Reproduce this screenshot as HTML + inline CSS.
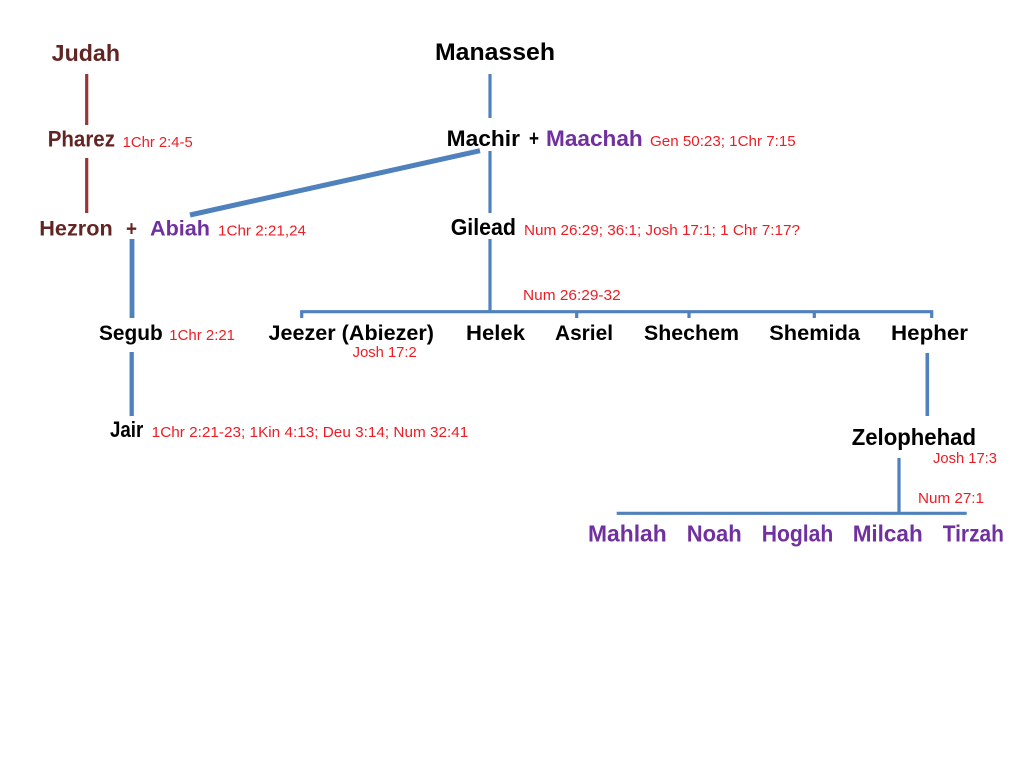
<!DOCTYPE html>
<html>
<head>
<meta charset="utf-8">
<style>
html,body{margin:0;padding:0;background:#fff;}
svg{display:block;}
.n{font-family:"Liberation Sans",sans-serif;font-weight:bold;}
.r{font-family:"Liberation Sans",sans-serif;fill:#ee1c24;font-size:14.5px;}
.b{fill:#632523;}
.k{fill:#000;}
.p{fill:#7030a0;}
</style>
</head>
<body>
<svg width="1024" height="768" viewBox="0 0 1024 768" xmlns="http://www.w3.org/2000/svg">
<!-- Judah lines -->
<g stroke="#953735" stroke-width="3.2" fill="none">
<line x1="86.7" y1="74" x2="86.7" y2="125"/>
<line x1="86.7" y1="158" x2="86.7" y2="213"/>
</g>
<!-- blue lines -->
<g stroke="#4f81bd" fill="none" stroke-linecap="butt">
<line x1="490" y1="74" x2="490" y2="118" stroke-width="3.2"/>
<line x1="490" y1="151" x2="490" y2="213" stroke-width="3.2"/>
<line x1="490" y1="239" x2="490" y2="313" stroke-width="3.2"/>
<line x1="190" y1="215" x2="480" y2="150.7" stroke-width="5"/>
<line x1="132" y1="239" x2="132" y2="318" stroke-width="4.8"/>
<line x1="131.7" y1="352" x2="131.7" y2="416" stroke-width="4.3"/>
<polyline points="301.7,318 301.7,311.7 931.7,311.7 931.7,318" stroke-width="3.2"/>
<line x1="576.7" y1="311.7" x2="576.7" y2="318" stroke-width="3.2"/>
<line x1="689" y1="311.7" x2="689" y2="318" stroke-width="3.2"/>
<line x1="814.3" y1="311.7" x2="814.3" y2="318" stroke-width="3.2"/>
<line x1="927.3" y1="353" x2="927.3" y2="416" stroke-width="3.6"/>
<line x1="899" y1="458" x2="899" y2="513" stroke-width="3.2"/>
<line x1="616.7" y1="513.3" x2="966.7" y2="513.3" stroke-width="3.2"/>
</g>

<!-- Judah side -->
<text class="n b" x="51.7" y="61" font-size="23" textLength="68.3" lengthAdjust="spacingAndGlyphs">Judah</text>
<text class="n b" x="47.7" y="146.7" font-size="22" textLength="67.3" lengthAdjust="spacingAndGlyphs">Pharez</text>
<text class="r" x="122.7" y="147" textLength="70" lengthAdjust="spacingAndGlyphs">1Chr 2:4-5</text>
<text class="n b" x="39.3" y="235.3" font-size="21.5" textLength="73.4" lengthAdjust="spacingAndGlyphs">Hezron</text>
<text class="n b" x="126" y="235.3" font-size="21.5" textLength="11" lengthAdjust="spacingAndGlyphs">+</text>
<text class="n p" x="150" y="235.3" font-size="21.5" textLength="60" lengthAdjust="spacingAndGlyphs">Abiah</text>
<text class="r" x="218" y="235.3" textLength="88" lengthAdjust="spacingAndGlyphs">1Chr 2:21,24</text>

<!-- Manasseh -->
<text class="n k" x="435" y="60" font-size="24" textLength="120" lengthAdjust="spacingAndGlyphs">Manasseh</text>
<text class="n k" x="446.7" y="146" font-size="22.5" textLength="73.3" lengthAdjust="spacingAndGlyphs">Machir</text>
<text class="n k" x="529" y="146" font-size="22.5" textLength="10" lengthAdjust="spacingAndGlyphs">+</text>
<text class="n p" x="546" y="146" font-size="22.5" textLength="96.7" lengthAdjust="spacingAndGlyphs">Maachah</text>
<text class="r" x="650" y="146" textLength="145.7" lengthAdjust="spacingAndGlyphs">Gen 50:23; 1Chr 7:15</text>
<text class="n k" x="450.7" y="235" font-size="23" textLength="65.3" lengthAdjust="spacingAndGlyphs">Gilead</text>
<text class="r" x="524" y="235" textLength="276" lengthAdjust="spacingAndGlyphs">Num 26:29; 36:1; Josh 17:1; 1 Chr 7:17?</text>

<text class="r" x="523" y="300" textLength="97.7" lengthAdjust="spacingAndGlyphs">Num 26:29-32</text>

<!-- sons row -->
<text class="n k" x="99" y="340" font-size="21.5" textLength="63.7" lengthAdjust="spacingAndGlyphs">Segub</text>
<text class="r" x="169.3" y="340" textLength="65.7" lengthAdjust="spacingAndGlyphs">1Chr 2:21</text>
<text class="n k" x="268.5" y="340" font-size="21.5" textLength="165.5" lengthAdjust="spacingAndGlyphs">Jeezer (Abiezer)</text>
<text class="r" x="352.7" y="357" textLength="64" lengthAdjust="spacingAndGlyphs">Josh 17:2</text>
<text class="n k" x="466" y="340" font-size="21.5" textLength="59" lengthAdjust="spacingAndGlyphs">Helek</text>
<text class="n k" x="555" y="340" font-size="21.5" textLength="58" lengthAdjust="spacingAndGlyphs">Asriel</text>
<text class="n k" x="644" y="340" font-size="21.5" textLength="95" lengthAdjust="spacingAndGlyphs">Shechem</text>
<text class="n k" x="769.3" y="340" font-size="21.5" textLength="90.7" lengthAdjust="spacingAndGlyphs">Shemida</text>
<text class="n k" x="891" y="340" font-size="21.5" textLength="77" lengthAdjust="spacingAndGlyphs">Hepher</text>

<text class="n k" x="110" y="437" font-size="22" textLength="33.3" lengthAdjust="spacingAndGlyphs">Jair</text>
<text class="r" x="151.7" y="437" textLength="316.6" lengthAdjust="spacingAndGlyphs">1Chr 2:21-23; 1Kin 4:13; Deu 3:14; Num 32:41</text>

<text class="n k" x="851.7" y="445" font-size="23" textLength="124.3" lengthAdjust="spacingAndGlyphs">Zelophehad</text>
<text class="r" x="933" y="463" textLength="64" lengthAdjust="spacingAndGlyphs">Josh 17:3</text>
<text class="r" x="918" y="503" textLength="66" lengthAdjust="spacingAndGlyphs">Num 27:1</text>

<text class="n p" x="588" y="541.7" font-size="23" textLength="78.7" lengthAdjust="spacingAndGlyphs">Mahlah</text>
<text class="n p" x="686.7" y="541.7" font-size="23" textLength="55" lengthAdjust="spacingAndGlyphs">Noah</text>
<text class="n p" x="761.7" y="541.7" font-size="23" textLength="71.6" lengthAdjust="spacingAndGlyphs">Hoglah</text>
<text class="n p" x="852.7" y="541.7" font-size="23" textLength="70" lengthAdjust="spacingAndGlyphs">Milcah</text>
<text class="n p" x="942.7" y="541.7" font-size="23" textLength="61.3" lengthAdjust="spacingAndGlyphs">Tirzah</text>
</svg>
</body>
</html>
